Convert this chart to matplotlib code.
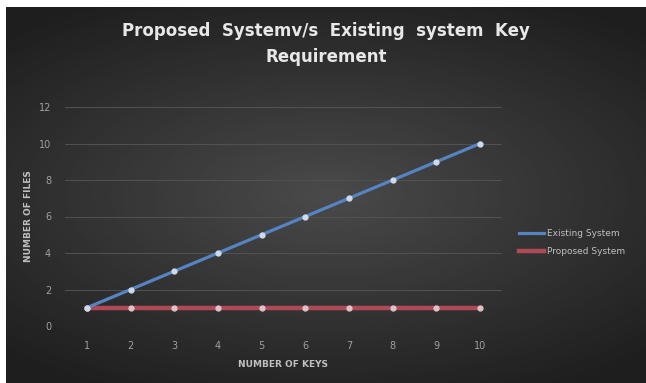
import numpy as np
import matplotlib.pyplot as plt

keys = [1, 2, 3, 4, 5, 6, 7, 8, 9, 10]
existing_files = [1, 2, 3, 4, 5, 6, 7, 8, 9, 10]
proposed_files = [1, 1, 1, 1, 1, 1, 1, 1, 1, 1]
y_ticks = [0, 2, 4, 6, 8, 10, 12]

fig = plt.figure(figsize=(6.46, 3.83), dpi=100, facecolor="white")

# dark panel with a soft radial glow in the middle
bg = fig.add_axes([6 / 646, 0, 640 / 646, 376 / 383])
yy, xx = np.mgrid[-1:1:200j, -1:1:320j]
r = np.sqrt((xx * 0.9) ** 2 + (yy * 1.1) ** 2)
shade = 0.29 - 0.13 * np.clip(r, 0, 1.3)
bg.imshow(shade, cmap="gray", vmin=0, vmax=1, aspect="auto", extent=[0, 1, 0, 1])
bg.axis("off")

ax = fig.add_axes([65 / 646, 57 / 383, 437 / 646, 219 / 383])
ax.patch.set_alpha(0)

ax.plot(keys, existing_files, color="#5683c2", lw=2.3, marker="o", ms=3.5,
        mfc="#cfdbe9", mec="#cfdbe9", label="Existing System", zorder=3)
ax.plot(keys, proposed_files, color="#ad4a56", lw=3.2, marker="o", ms=3.5,
        mfc="#e0c2c6", mec="#e0c2c6", label="Proposed System", zorder=2)

ax.set_xlim(0.5, 10.5)
ax.set_ylim(0, 12)
ax.set_xticks(keys)
ax.set_yticks(y_ticks)
ax.tick_params(colors="#a0a0a0", labelsize=7, length=0)
ax.tick_params(axis="x", pad=11)
ax.tick_params(axis="y", pad=10)
for s in ax.spines.values():
    s.set_visible(False)
ax.grid(axis="y", color="#525252", lw=0.7)
ax.set_axisbelow(True)

ax.set_xlabel("NUMBER OF KEYS", color="#c0c0c0", fontsize=6.5,
              fontweight="bold", labelpad=6)
ax.set_ylabel("NUMBER OF FILES", color="#c0c0c0", fontsize=6.5,
              fontweight="bold", labelpad=4)

fig.text(0.505, 0.885, "Proposed  Systemv/s  Existing  system  Key\nRequirement",
         ha="center", va="center", color="#e8e8e8", fontsize=12,
         fontweight="bold", linespacing=1.55)

ax.legend(loc="center left", bbox_to_anchor=(1.02, 0.38), frameon=False,
          fontsize=6.5, labelcolor="#c0c0c0", handlelength=2.8,
          handletextpad=0.3, labelspacing=1.0)
for h in ax.get_legend().legend_handles:
    h.set_marker("")

fig.savefig("out.png", dpi=100, facecolor=fig.get_facecolor())
